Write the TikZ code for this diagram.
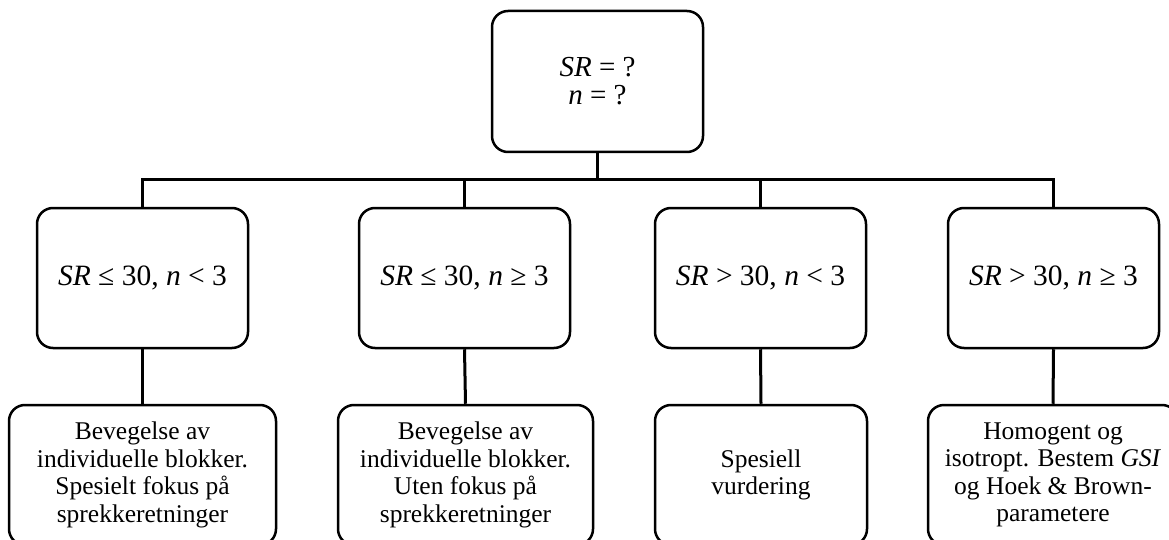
\documentclass[tikz,border=0pt]{standalone}
\usepackage{fontspec}
\setmainfont{Liberation Serif}
\begin{document}
\begin{tikzpicture}[x=1pt,y=-1pt,
  box/.style={draw, line width=2.5pt, rounded corners=16pt, align=center, inner sep=0pt},
  big/.style={font=\fontsize{29}{28}\selectfont},
  mid/.style={font=\fontsize{29.5}{28}\selectfont},
  small/.style={font=\fontsize{25.5}{27.5}\selectfont},
  conn/.style={line width=3pt}]
\useasboundingbox (0,0) rectangle (1169,540);
\fill[white] (0,0) rectangle (1169,540);
\clip (0,0) rectangle (1169,540);
% top
\node[box, big, minimum width=211pt, minimum height=141pt] (top) at (597.5,81.5) {\textit{SR} = ?\\\textit{n} = ?};
% middle row
\node[box, mid, minimum width=211pt, minimum height=140pt] (a1) at (142.5,278) {\textit{SR} ≤ 30, \textit{n} < 3};
\node[box, mid, minimum width=211pt, minimum height=140pt] (a2) at (464.5,278) {\textit{SR} ≤ 30, \textit{n} ≥ 3};
\node[box, mid, minimum width=211pt, minimum height=140pt] (a3) at (760.5,278) {\textit{SR} > 30, \textit{n} < 3};
\node[box, mid, minimum width=211pt, minimum height=140pt] (a4) at (1053.5,278) {\textit{SR} > 30, \textit{n} ≥ 3};
% bottom row
\node[box, small, minimum width=267pt, minimum height=140pt] (b1) at (142.5,475) {Bevegelse av\\individuelle blokker.\\Spesielt fokus på\\sprekkeretninger};
\node[box, small, minimum width=255pt, minimum height=140pt] (b2) at (465.5,475) {Bevegelse av\\individuelle blokker.\\Uten fokus på\\sprekkeretninger};
\node[box, small, minimum width=212pt, minimum height=140pt] (b3) at (761,475) {Spesiell\\vurdering};
\node[box, small, minimum width=250pt, minimum height=140pt] (b4) at (1053,475) {Homogent og\\isotropt. Bestem \textit{GSI}\\og Hoek \& Brown-\\parametere};
% connectors
\coordinate (j) at (597.5,180);
\draw[conn] (top.south) -- (j);
\draw[conn] (a1.north) -- (a1.north |- j) -- (a4.north |- j) -- (a4.north);
\draw[conn] (a2.north) -- (a2.north |- j);
\draw[conn] (a3.north) -- (a3.north |- j);
\draw[conn] (a1.south) -- (b1.north);
\draw[conn] (a2.south) -- (b2.north);
\draw[conn] (a3.south) -- (b3.north);
\draw[conn] (a4.south) -- (b4.north);
\end{tikzpicture}
\end{document}
